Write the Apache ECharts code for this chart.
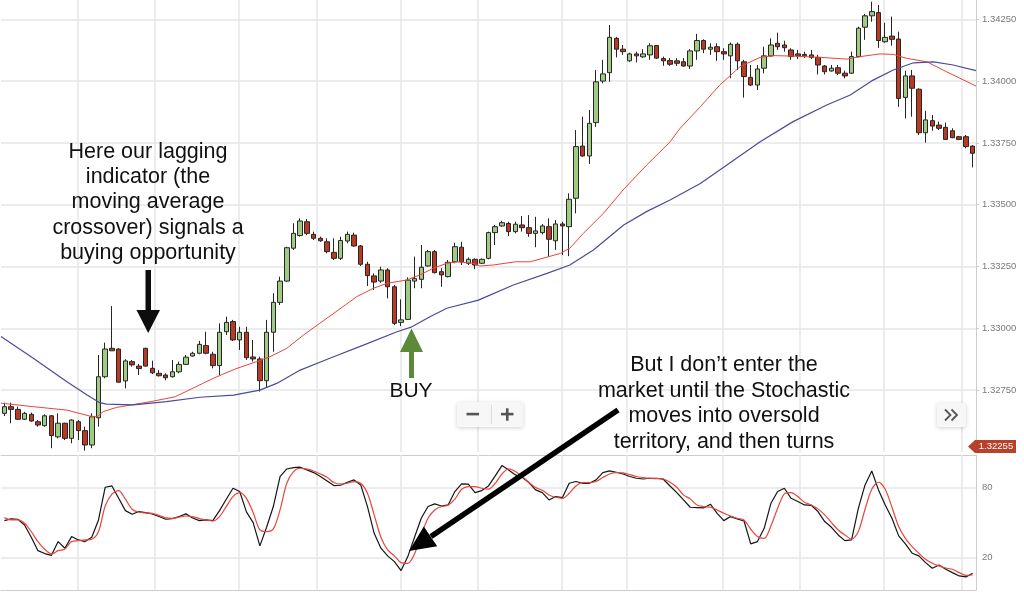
<!DOCTYPE html>
<html><head><meta charset="utf-8">
<script src="https://cdn.jsdelivr.net/npm/echarts@6/dist/echarts.min.js"></script>
<style>html,body{margin:0;padding:0;background:#fff}#chart{width:1024px;height:594px}</style>
</head><body><div id="chart"></div>
<script>
// ---- data ----
// candles: [open, close, low, high]
const candles = [
[1.32656,1.32683,1.32645,1.32699],[1.32683,1.32672,1.32616,1.32699],[1.32672,1.32632,1.32629,1.32683],[1.32632,1.32656,1.32629,1.32662],
[1.32652,1.32625,1.32622,1.32659],[1.32622,1.32609,1.32602,1.32629],[1.32606,1.32646,1.32602,1.32652],[1.32646,1.32566,1.32515,1.32649],
[1.32561,1.32616,1.32555,1.32656],[1.32616,1.32555,1.32548,1.32618],[1.32555,1.32629,1.32535,1.32632],[1.32622,1.32586,1.32548,1.32629],
[1.32586,1.32528,1.32505,1.32602],[1.32528,1.32642,1.32515,1.32656],[1.32638,1.32804,1.32602,1.32892],[1.32804,1.32916,1.32798,1.32942],
[1.32919,1.32909,1.32909,1.33090],[1.32916,1.32782,1.32780,1.32919],[1.32787,1.32868,1.32757,1.32875],[1.32865,1.32852,1.32845,1.32872],
[1.32847,1.32837,1.32811,1.32856],[1.32919,1.32847,1.32845,1.32921],[1.32838,1.32820,1.32815,1.32869],[1.32818,1.32808,1.32805,1.32831],
[1.32811,1.32800,1.32790,1.32818],[1.32804,1.32824,1.32801,1.32872],[1.32824,1.32854,1.32818,1.32865],[1.32854,1.32883,1.32852,1.32892],
[1.32888,1.32899,1.32885,1.32905],[1.32899,1.32935,1.32895,1.32949],[1.32930,1.32899,1.32895,1.32986],[1.32895,1.32849,1.32838,1.32905],
[1.32849,1.32984,1.32811,1.33020],[1.32986,1.33024,1.32973,1.33047],[1.33027,1.32953,1.32949,1.33034],[1.32953,1.32984,1.32912,1.33006],
[1.32984,1.32881,1.32872,1.33006],[1.32884,1.32876,1.32865,1.32953],[1.32876,1.32788,1.32744,1.32885],[1.32788,1.32984,1.32760,1.33034],
[1.32984,1.33105,1.32905,1.33142],[1.33105,1.33191,1.33094,1.33209],[1.33191,1.33326,1.33188,1.33330],[1.33324,1.33384,1.33317,1.33425],
[1.33375,1.33434,1.33371,1.33445],[1.33431,1.33384,1.33377,1.33442],[1.33380,1.33364,1.33357,1.33391],[1.33364,1.33354,1.33350,1.33371],
[1.33350,1.33310,1.33303,1.33364],[1.33307,1.33283,1.33276,1.33364],[1.33283,1.33355,1.33276,1.33370],[1.33353,1.33380,1.33344,1.33391],
[1.33377,1.33333,1.33330,1.33387],[1.33333,1.33259,1.33252,1.33337],[1.33259,1.33213,1.33171,1.33269],[1.33212,1.33187,1.33155,1.33222],
[1.33191,1.33236,1.33184,1.33249],[1.33236,1.33168,1.33121,1.33243],[1.33168,1.33020,1.33013,1.33175],[1.33024,1.33034,1.33009,1.33117],
[1.33036,1.33195,1.33034,1.33206],[1.33191,1.33201,1.33162,1.33290],[1.33198,1.33247,1.33162,1.33337],[1.33252,1.33310,1.33249,1.33317],
[1.33310,1.33225,1.33222,1.33317],[1.33229,1.33216,1.33168,1.33243],[1.33209,1.33267,1.33206,1.33276],[1.33269,1.33330,1.33263,1.33346],
[1.33328,1.33269,1.33256,1.33350],[1.33263,1.33279,1.33256,1.33287],[1.33279,1.33256,1.33239,1.33283],[1.33263,1.33279,1.33260,1.33283],
[1.33283,1.33387,1.33279,1.33391],[1.33387,1.33411,1.33337,1.33418],[1.33414,1.33427,1.33411,1.33435],[1.33424,1.33391,1.33373,1.33431],
[1.33391,1.33421,1.33384,1.33431],[1.33418,1.33407,1.33391,1.33454],[1.33407,1.33384,1.33370,1.33458],[1.33384,1.33394,1.33328,1.33451],
[1.33387,1.33414,1.33380,1.33422],[1.33411,1.33360,1.33290,1.33445],[1.33354,1.33422,1.33317,1.33438],[1.33422,1.33414,1.33296,1.33431],
[1.33411,1.33522,1.33292,1.33546],[1.33526,1.33735,1.33465,1.33802],[1.33737,1.33697,1.33694,1.33856],[1.33697,1.33829,1.33665,1.33883],
[1.33832,1.33997,1.33815,1.34045],[1.34000,1.34029,1.33991,1.34086],[1.34034,1.34177,1.33997,1.34227],[1.34173,1.34129,1.34096,1.34179],
[1.34129,1.34119,1.34106,1.34146],[1.34082,1.34110,1.34078,1.34115],[1.34110,1.34102,1.34076,1.34119],[1.34098,1.34110,1.34094,1.34129],
[1.34106,1.34143,1.34086,1.34153],[1.34144,1.34093,1.34089,1.34146],[1.34091,1.34082,1.34062,1.34099],[1.34083,1.34068,1.34062,1.34093],
[1.34082,1.34072,1.34061,1.34093],[1.34078,1.34061,1.34058,1.34093],[1.34061,1.34122,1.34049,1.34129],[1.34122,1.34164,1.34086,1.34191],
[1.34164,1.34129,1.34113,1.34169],[1.34129,1.34137,1.34106,1.34153],[1.34139,1.34119,1.34082,1.34153],[1.34119,1.34110,1.34086,1.34133],
[1.34102,1.34149,1.34011,1.34156],[1.34149,1.34082,1.34045,1.34156],[1.34078,1.34018,1.33933,1.34086],[1.34015,1.33984,1.33980,1.34065],
[1.33984,1.34049,1.33964,1.34065],[1.34052,1.34102,1.34031,1.34139],[1.34102,1.34146,1.34098,1.34173],[1.34153,1.34139,1.34126,1.34196],
[1.34146,1.34135,1.34119,1.34163],[1.34126,1.34099,1.34086,1.34133],[1.34110,1.34102,1.34089,1.34126],[1.34108,1.34102,1.34094,1.34119],
[1.34106,1.34096,1.34089,1.34126],[1.34096,1.34065,1.34027,1.34106],[1.34061,1.34038,1.34027,1.34065],[1.34041,1.34052,1.34038,1.34065],
[1.34054,1.34032,1.34024,1.34065],[1.34032,1.34021,1.34011,1.34042],[1.34032,1.34099,1.34029,1.34119],[1.34099,1.34214,1.34096,1.34220],
[1.34218,1.34264,1.34167,1.34272],[1.34264,1.34281,1.34240,1.34321],[1.34277,1.34164,1.34134,1.34308],[1.34159,1.34177,1.34155,1.34236],
[1.34182,1.34169,1.34143,1.34261],[1.34170,1.33930,1.33896,1.34200],[1.33934,1.34021,1.33849,1.34042],[1.34021,1.33971,1.33856,1.34045],
[1.33967,1.33791,1.33782,1.33971],[1.33791,1.33843,1.33751,1.33880],[1.33840,1.33818,1.33799,1.33863],[1.33822,1.33809,1.33802,1.33836],
[1.33813,1.33764,1.33762,1.33832],[1.33799,1.33771,1.33769,1.33809],[1.33775,1.33764,1.33761,1.33778],[1.33775,1.33735,1.33728,1.33782],
[1.33737,1.33708,1.33651,1.33741]
];
// moving averages: [candle position, price]
const maFast = [
[-0.5,1.32697],[4.3,1.32683],[9.3,1.32669],[12.7,1.32645],[13.8,1.32642],[14.7,1.32663],[16.7,1.32680],[21.7,1.32703],
[25.4,1.32723],[29.5,1.32777],[31.6,1.32804],[34.6,1.32838],[37.5,1.32865],[39.5,1.32885],[42.0,1.32919],[44.5,1.32973],
[46.9,1.33020],[50.7,1.33094],[52.4,1.33128],[54.9,1.33162],[56.9,1.33182],[59.8,1.33195],[61.8,1.33216],[63.8,1.33243],
[65.8,1.33263],[67.3,1.33269],[69.7,1.33263],[70.7,1.33252],[72.7,1.33256],[76.0,1.33269],[78.2,1.33269],[82.7,1.33303],
[84.1,1.33324],[86.1,1.33384],[89.1,1.33465],[92.0,1.33559],[95.5,1.33660],[99.0,1.33754],[100.5,1.33809],[103.5,1.33896],
[106.4,1.33984],[109.4,1.34058],[112.4,1.34096],[114.4,1.34103],[117.3,1.34101],[121.3,1.34096],[125.3,1.34089],[127.3,1.34099],
[130.2,1.34110],[132.2,1.34108],[134.2,1.34092],[137.2,1.34078],[140.1,1.34038],[144.5,1.33980]
];
const maSlow = [
[-0.5,1.32967],[4.3,1.32879],[9.3,1.32784],[12.3,1.32730],[14.2,1.32699],[15.2,1.32693],[19.2,1.32690],[24.1,1.32703],
[29.1,1.32721],[34.1,1.32730],[38.0,1.32750],[40.5,1.32777],[44.0,1.32831],[48.4,1.32879],[53.4,1.32932],[58.4,1.32986],
[60.6,1.33006],[63.3,1.33047],[65.8,1.33081],[70.5,1.33114],[75.7,1.33175],[80.7,1.33222],[84.1,1.33256],[87.6,1.33317],
[92.1,1.33418],[95.5,1.33472],[99.0,1.33519],[103.5,1.33586],[107.4,1.33660],[112.4,1.33755],[117.3,1.33836],[122.3,1.33903],
[125.8,1.33944],[129.2,1.34004],[132.2,1.34045],[135.2,1.34074],[138.2,1.34078],[141.1,1.34065],[144.5,1.34042]
];
const stochK = [
51.6,53.1,52.8,47.9,37.3,25.8,23.3,21.8,33.6,27.9,37.9,35.0,33.6,37.3,52.2,80.3,81.4,70.8,60.2,57.1,
59.4,58.5,57.4,55.1,52.8,53.4,55.1,57.4,53.9,51.6,52.2,51.6,60.2,70.0,79.4,76.6,59.1,49.9,29.9,45.9,
63.7,89.5,96.0,97.2,97.5,95.2,92.9,89.5,85.7,81.7,82.0,84.6,86.6,82.3,63.7,40.7,27.9,21.3,16.4,8.7,
20.7,37.3,53.6,63.7,66.0,64.2,65.1,76.6,83.2,82.9,75.7,77.4,81.4,90.0,98.9,95.2,90.9,88.9,84.3,78.0,
75.7,69.4,72.3,71.4,83.7,85.2,83.7,83.7,86.6,92.9,94.3,93.2,91.7,89.5,88.0,87.4,88.0,88.0,87.2,81.4,
75.7,69.4,63.1,62.8,62.5,65.7,57.9,51.6,55.1,53.1,51.3,31.6,33.6,45.0,66.5,76.6,79.4,70.8,68.0,65.1,
64.8,59.4,50.8,45.9,39.3,34.4,35.0,62.2,82.3,94.3,78.0,65.1,53.6,38.5,31.6,23.6,21.3,15.5,10.7,13.5,
9.8,6.9,4.1,3.2,6.4
];
const stochD = [
54.2,52.2,52.2,49.3,42.2,33.6,27.0,23.0,25.8,27.3,33.6,34.4,35.0,35.6,42.2,64.2,74.3,77.4,70.0,61.4,
58.8,58.2,57.9,56.2,53.9,53.6,54.5,55.6,55.1,53.4,52.2,51.3,55.1,63.7,72.3,75.7,70.8,58.5,43.6,42.2,
44.5,60.8,83.7,93.8,96.6,95.8,94.3,91.7,88.8,84.3,82.9,83.7,85.2,83.7,75.1,56.5,37.3,26.4,21.3,15.5,
14.9,23.0,39.3,53.6,60.8,63.7,64.8,70.0,78.6,80.9,80.9,79.4,78.6,83.7,91.7,96.0,93.8,89.5,84.6,80.0,
77.7,73.7,71.7,70.8,75.1,81.4,84.3,84.3,85.2,88.6,91.7,92.9,92.6,91.2,89.5,88.6,88.0,87.7,87.4,84.6,
80.3,73.7,70.3,65.1,63.7,63.1,60.8,57.9,55.6,53.6,52.2,44.2,37.9,36.4,47.0,62.2,74.6,75.7,72.3,67.4,
65.1,61.7,56.5,49.9,43.6,39.3,35.6,42.2,61.4,78.6,84.6,78.6,63.1,46.5,36.4,29.3,23.6,18.4,15.0,12.7,
10.9,9.8,6.9,4.6,4.9
];
const dayBreaks = [10.95, 22.4, 34.9, 46.5, 59.0, 70.4, 82.9, 92.5, 106.9, 118.3, 130.8, 142.4];
const stochLevels = [20, 80];
const priceMin = 1.3250, priceMax = 1.34328, priceStep = 0.0025;
const stochMin = -8, stochMax = 108, stochStep = 4;
const lastPriceTag = '1.32255';
const noteLeft = 'Here our lagging\nindicator (the\nmoving average\ncrossover) signals a\nbuying opportunity';
const noteRight = 'But I don\u2019t enter the\nmarket until the Stochastic\nmoves into oversold\nterritory, and then turns';
const buyLabel = 'BUY';

// ---- chart ----
const FONT = '"Liberation Sans", Arial, Helvetica, sans-serif';
const chart = echarts.init(document.getElementById('chart'), null, {renderer: 'canvas'});
const xMin = -0.5, xMax = candles.length - 0.5;
const candleData = candles.map((c, i) => [i, c[0], c[1], c[2], c[3]]);
const kData = stochK.map((v, i) => [i, v]);
const dData = stochD.map((v, i) => [i, v]);
const GRID_C = '#e6e6e6', AXIS_C = '#cdcdcd';

function gridMarks(extra) {
  return {
    silent: true, symbol: ['none', 'none'], z: 1, animation: false,
    label: {show: false}, emphasis: {disabled: true},
    lineStyle: {color: GRID_C, width: 1.5, type: 'solid'},
    data: dayBreaks.map(v => ({xAxis: v})).concat(extra || [])
  };
}
function hiddenX(grid, pos, showLine) {
  return {type: 'value', gridIndex: grid, min: xMin, max: xMax, position: pos,
    axisLine: {show: showLine, onZero: false, lineStyle: {color: AXIS_C}}, axisTick: {show: false},
    axisLabel: {show: false}, splitLine: {show: false}};
}

const option = {
  animation: false,
  backgroundColor: '#fff',
  grid: [
    {left: 1, right: 48, top: 0, bottom: 142.1, outerBoundsMode: 'none', containLabel: false},
    {left: 1, right: 48, top: 455, bottom: 4, outerBoundsMode: 'none', containLabel: false}
  ],
  xAxis: [
    hiddenX(0, 'bottom', false),
    hiddenX(1, 'bottom', true),
    hiddenX(1, 'top', true)
  ],
  yAxis: [
    {type: 'value', gridIndex: 0, position: 'right', min: priceMin, max: priceMax, interval: priceStep,
      axisLine: {show: true, onZero: false, lineStyle: {color: AXIS_C}},
      axisTick: {show: true, length: 3, lineStyle: {color: AXIS_C}},
      axisLabel: {color: '#7a7a7a', fontSize: 9.5, fontFamily: FONT, margin: 6,
        showMinLabel: false, showMaxLabel: false, formatter: v => v.toFixed(5)},
      splitLine: {show: true, showMinLine: false, showMaxLine: false, lineStyle: {color: GRID_C, width: 1.5}}},
    {type: 'value', gridIndex: 1, position: 'right', min: stochMin, max: stochMax, interval: stochStep,
      axisLine: {show: true, onZero: false, lineStyle: {color: AXIS_C}}, axisTick: {show: false},
      axisLabel: {color: '#7a7a7a', fontSize: 9.5, fontFamily: FONT, margin: 6,
        formatter: v => stochLevels.indexOf(Math.round(v)) >= 0 ? String(Math.round(v)) : ''},
      splitLine: {show: false}}
  ],
  series: [
    {type: 'candlestick', xAxisIndex: 0, yAxisIndex: 0, data: candleData, barWidth: 5, z: 2,
      itemStyle: {color: '#9fcb85', color0: '#b83a22', borderColor: '#262626', borderColor0: '#262626', borderWidth: 1},
      markLine: gridMarks()},
    {type: 'line', xAxisIndex: 0, yAxisIndex: 0, data: maFast, symbol: 'none', z: 3,
      lineStyle: {color: '#e8453c', width: 1}},
    {type: 'line', xAxisIndex: 0, yAxisIndex: 0, data: maSlow, symbol: 'none', z: 3,
      lineStyle: {color: '#4b4b9c', width: 1.2}},
    {type: 'line', xAxisIndex: 1, yAxisIndex: 1, data: kData, symbol: 'none', z: 3,
      lineStyle: {color: '#151515', width: 1.2},
      markLine: gridMarks(stochLevels.map(v => ({yAxis: v})))},
    {type: 'line', xAxisIndex: 1, yAxisIndex: 1, data: dData, symbol: 'none', smooth: 0.3, z: 3,
      lineStyle: {color: '#e8453c', width: 1.2}}
  ],
  graphic: [
    {type: 'text', z: 10, style: {text: noteLeft, x: 148, y: 139.3, align: 'center', verticalAlign: 'top',
      font: '21.5px ' + FONT, lineHeight: 25.3, fill: '#111'}},
    {type: 'polygon', z: 10, shape: {points: [[145.5,270],[151,270],[151,310],[160,310],[148.2,333],[136.5,310],[145.5,310]]},
      style: {fill: '#0d0d0d'}},
    {type: 'polygon', z: 10, shape: {points: [[411.5,328.5],[423,352],[414,352],[414,378],[409,378],[409,352],[400,352]]},
      style: {fill: '#5d8a38'}},
    {type: 'text', z: 10, style: {text: buyLabel, x: 411, y: 391.5, align: 'center', verticalAlign: 'middle',
      font: '21px ' + FONT, fill: '#111'}},
    {type: 'text', z: 10, style: {text: noteRight, x: 724, y: 352.2, align: 'center', verticalAlign: 'top',
      font: '21.5px ' + FONT, lineHeight: 25.6, fill: '#111'}},
    {type: 'line', z: 10, shape: {x1: 618, y1: 410, x2: 431, y2: 536.5}, style: {stroke: '#000', lineWidth: 5.5}},
    {type: 'polygon', z: 10, shape: {points: [[409,551],[423.8,526.5],[437.2,546.3]]}, style: {fill: '#000'}},
    // zoom buttons
    {type: 'rect', z: 10, shape: {x: 457, y: 402, width: 66, height: 25, r: 3},
      style: {fill: '#f7f7f7', shadowBlur: 4, shadowColor: 'rgba(0,0,0,0.18)', shadowOffsetY: 1}},
    {type: 'rect', z: 11, shape: {x: 466.5, y: 412.8, width: 12.5, height: 2.6}, style: {fill: '#555'}},
    {type: 'rect', z: 11, shape: {x: 501, y: 412.8, width: 12.5, height: 2.6}, style: {fill: '#555'}},
    {type: 'rect', z: 11, shape: {x: 505.95, y: 408.3, width: 2.6, height: 12.4}, style: {fill: '#555'}},
    {type: 'line', z: 11, shape: {x1: 491.5, y1: 405, x2: 491.5, y2: 424}, style: {stroke: '#dcdcdc', lineWidth: 1}},
    {type: 'rect', z: 10, shape: {x: 937, y: 403, width: 29, height: 24, r: 3},
      style: {fill: '#f7f7f7', shadowBlur: 4, shadowColor: 'rgba(0,0,0,0.18)', shadowOffsetY: 1}},
    {type: 'polyline', z: 11, shape: {points: [[945,409.5],[950.5,415],[945,420.5]]}, style: {stroke: '#555', lineWidth: 1.8, fill: null}},
    {type: 'polyline', z: 11, shape: {points: [[951.5,409.5],[957,415],[951.5,420.5]]}, style: {stroke: '#555', lineWidth: 1.8, fill: null}},
    // last price tag
    {type: 'polygon', z: 10, shape: {points: [[968,446.5],[975,440],[1016,440],[1016,453],[975,453]]}, style: {fill: '#b8412b'}},
    {type: 'text', z: 11, style: {text: lastPriceTag, x: 996, y: 446.8, align: 'center', verticalAlign: 'middle',
      font: '9.5px ' + FONT, fill: '#fff'}}
  ]
};
chart.setOption(option);
</script>
</body></html>
